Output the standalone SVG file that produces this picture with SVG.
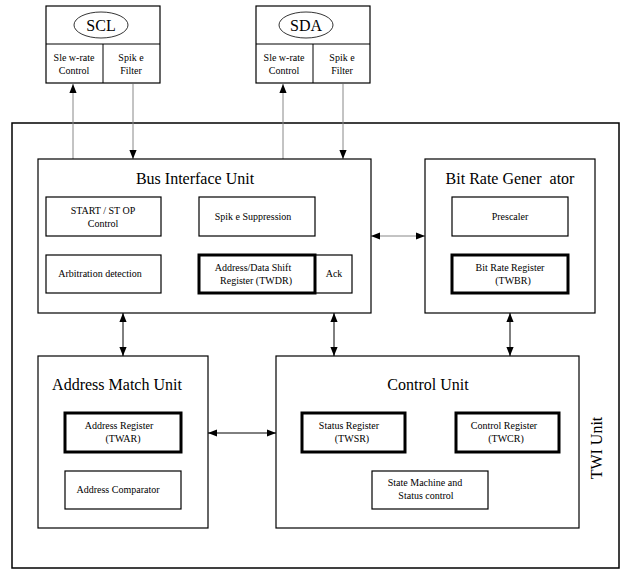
<svg xmlns="http://www.w3.org/2000/svg" width="630" height="578" viewBox="0 0 630 578">
<defs>
<style>
rect{fill:#fff;stroke:#000;stroke-width:1.2}
.thick{stroke-width:3}
text{font-family:"Liberation Serif","Times New Roman",serif;fill:#000;text-anchor:middle;white-space:pre}
.s{font-size:10px}
.m{font-size:11px}
.t{font-size:16px}
.l{stroke:#000;stroke-width:1}
.g{stroke:#888;stroke-width:1}
</style>
<marker id="a" viewBox="0 0 10 10" refX="10" refY="5" markerWidth="9" markerHeight="9" markerUnits="userSpaceOnUse" orient="auto-start-reverse"><path d="M0,1 L10,5 L0,9 Z" fill="#000"/></marker>
</defs>
<rect width="630" height="578" style="fill:#fff;stroke:none"/>
<g id="twi"><rect x="12" y="123" width="607" height="445" style="stroke-width:1.5"/>
<text class="t" transform="translate(602,448) rotate(-90)">TWI Unit</text></g>
<g id="scl"><rect x="46" y="6" width="114" height="77"/><line class="l" x1="46" y1="44" x2="160" y2="44"/><line class="l" x1="103" y1="44" x2="103" y2="83"/>
<ellipse cx="101" cy="25" rx="27" ry="13" fill="none" stroke="#000" stroke-width="0.8"/><text class="t" x="101" y="31">SCL</text>
<text class="s" x="74" y="61">Sle w-rate</text><text class="s" x="74" y="74">Control</text>
<text class="s" x="131" y="61">Spik e</text><text class="s" x="131" y="74">Filter</text></g>
<g id="sda"><rect x="256" y="6" width="114" height="77"/><line class="l" x1="256" y1="44" x2="370" y2="44"/><line class="l" x1="313" y1="44" x2="313" y2="83"/>
<ellipse cx="306" cy="25" rx="27" ry="13" fill="none" stroke="#000" stroke-width="0.8"/><text class="t" x="306" y="31">SDA</text>
<text class="s" x="284" y="61">Sle w-rate</text><text class="s" x="284" y="74">Control</text>
<text class="s" x="342" y="61">Spik e</text><text class="s" x="342" y="74">Filter</text></g>
<g id="connectors">
<line class="g" x1="73" y1="159" x2="73" y2="84" marker-end="url(#a)"/>
<line class="g" x1="133" y1="84" x2="133" y2="159" marker-end="url(#a)"/>
<line class="g" x1="283" y1="159" x2="283" y2="84" marker-end="url(#a)"/>
<line class="g" x1="343" y1="84" x2="343" y2="159" marker-end="url(#a)"/>
<line class="g" x1="371" y1="236" x2="425" y2="236" marker-start="url(#a)" marker-end="url(#a)"/>
<line class="l" x1="123" y1="313" x2="123" y2="356" marker-start="url(#a)" marker-end="url(#a)"/>
<line class="l" x1="334" y1="313" x2="334" y2="356" marker-start="url(#a)" marker-end="url(#a)"/>
<line class="l" x1="510" y1="313" x2="510" y2="356" marker-start="url(#a)" marker-end="url(#a)"/>
<line class="l" x1="208" y1="433" x2="276" y2="433" marker-start="url(#a)" marker-end="url(#a)"/>
</g>
<g id="biu"><rect x="38" y="159" width="333" height="154"/><text class="t" x="195" y="184">Bus Interface Unit</text>
<rect x="46" y="197" width="115" height="39"/><text class="s" x="103" y="214">START / ST OP</text><text class="s" x="103" y="227">Control</text>
<rect x="199" y="197" width="116" height="39"/><text class="s" x="253" y="220">Spik e Suppression</text>
<rect x="46" y="255" width="115" height="38"/><text class="s" x="100" y="277">Arbitration detection</text>
<rect x="315" y="255" width="37" height="38"/><text class="s" x="334" y="277">Ack</text>
<rect class="thick" x="199" y="255" width="116" height="38"/><text class="s" x="253" y="271">Address/Data Shift</text><text class="s" x="256" y="284">Register (TWDR)</text></g>
<g id="brg"><rect x="425" y="159" width="170" height="154"/><text class="t" x="510" y="184">Bit Rate Gener  ator</text>
<rect x="452" y="197" width="116" height="39"/><text class="s" x="510" y="220">Prescaler</text>
<rect class="thick" x="452" y="255" width="116" height="38"/><text class="s" x="510" y="271">Bit Rate Register</text><text class="s" x="513" y="284">(TWBR)</text></g>
<g id="amu"><rect x="38" y="356" width="170" height="172"/><text class="t" x="117" y="390">Address Match Unit</text>
<rect class="thick" x="65" y="413" width="116" height="39"/><text class="s" x="119" y="429">Address Register</text><text class="s" x="123" y="442">(TWAR)</text>
<rect x="65" y="471" width="116" height="38"/><text class="s" x="118" y="493">Address Comparator</text></g>
<g id="cu"><rect x="276" y="356" width="303" height="172"/><text class="t" x="428" y="390">Control Unit</text>
<rect class="thick" x="302" y="413" width="103" height="39"/><text class="s" x="349" y="429">Status Register</text><text class="s" x="352" y="442">(TWSR)</text>
<rect class="thick" x="456" y="413" width="103" height="39"/><text class="s" x="504" y="429">Control Register</text><text class="s" x="506" y="442">(TWCR)</text>
<rect x="372" y="471" width="116" height="38"/><text class="s" x="425" y="486">State Machine and</text><text class="s" x="426" y="499">Status control</text></g>
</svg>
